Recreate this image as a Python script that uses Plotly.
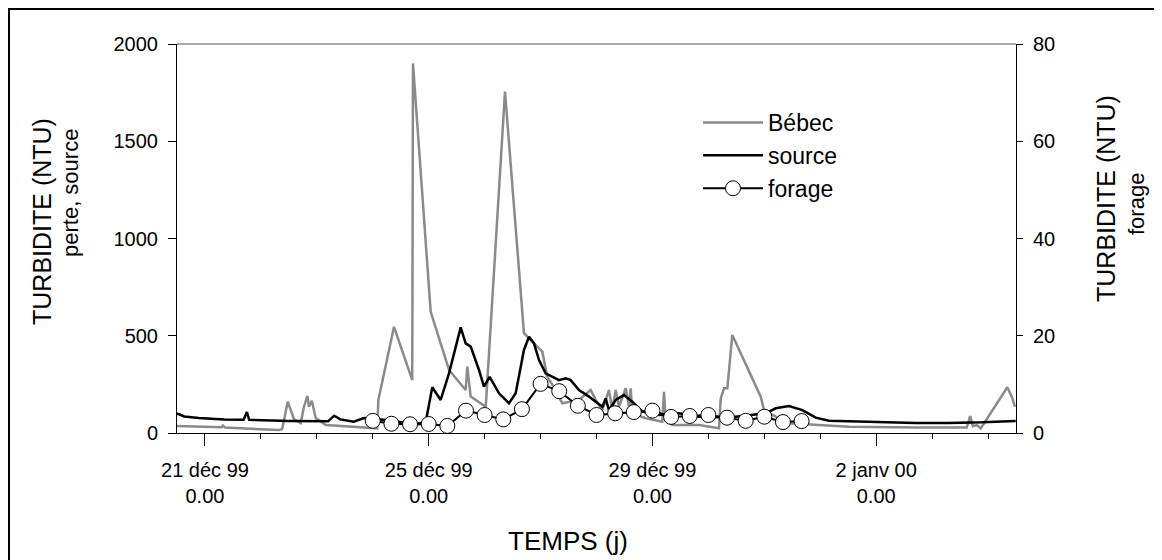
import pandas as pd
import plotly.graph_objects as go

# ---- data (time in days from 21 déc 1999 00:00) ----
bebec_days = [-0.52, 0.30, 0.32, 0.36, 1.32, 1.38, 1.48, 1.59, 1.71, 1.77,
              1.83, 1.86, 1.91, 1.98, 2.16, 2.58, 2.93, 3.08, 3.10, 3.38,
              3.706, 3.719, 4.035, 4.363, 4.661, 4.690, 4.751, 5.02, 5.364, 5.703,
              6.031, 6.120, 6.270, 6.388, 6.687, 6.896, 6.986, 7.104, 7.223, 7.282,
              7.343, 7.402, 7.522, 7.581, 7.611, 7.640, 7.880, 8.176, 8.207, 8.237,
              8.355, 8.833, 9.190, 9.221, 9.280, 9.339, 9.428, 9.936, 9.995, 10.204,
              10.442, 10.919, 11.515, 12.71, 13.62, 13.68, 13.73, 13.80, 13.87, 14.345,
              14.434, 14.48]
bebec_ntu = [36, 30, 38, 28, 15, 20, 161, 72, 51, 135,
             190, 135, 166, 77, 41, 32, 26, 24, 170, 546,
             272, 1900, 624, 324, 221, 341, 187, 135, 1755, 513,
             418, 289, 221, 153, 170, 221, 170, 118, 221, 118,
             221, 135, 230, 135, 230, 101, 76, 58, 212, 67,
             41, 41, 24, 178, 230, 230, 504, 187, 118, 84,
             50, 41, 32, 28, 28, 87, 35, 41, 24, 235,
             180, 135]

source_days = [-0.52, -0.45, -0.37, -0.11, 0.34, 0.69, 0.75, 0.79, 1.50, 2.05,
               2.20, 2.31, 2.42, 2.66, 2.84, 2.93, 3.29, 3.74, 3.946, 4.064,
               4.214, 4.363, 4.572, 4.661, 4.751, 4.899, 4.988, 5.090, 5.257, 5.435,
               5.555, 5.703, 5.793, 5.882, 5.972, 6.091, 6.209, 6.329, 6.449, 6.538,
               6.687, 6.866, 7.104, 7.164, 7.223, 7.343, 7.492, 7.640, 7.819, 8.117,
               8.475, 8.833, 9.369, 10.025, 10.204, 10.442, 10.680, 10.919, 11.157, 11.813,
               12.707, 13.302, 13.898, 14.495]
source_ntu = [100, 95, 85, 77, 70, 68, 108, 68, 62, 58,
              60, 89, 70, 58, 77, 75, 65, 45, 55, 235,
              170, 307, 543, 461, 444, 324, 238, 289, 204, 153,
              204, 427, 495, 461, 375, 307, 289, 272, 281, 272,
              221, 187, 135, 178, 118, 170, 195, 161, 110, 93,
              101, 84, 80, 101, 127, 139, 118, 79, 63, 57,
              52, 52, 55, 62]

forage_time = ["1999-12-24 00:00", "1999-12-24 08:00", "1999-12-24 16:00",
               "1999-12-25 00:00", "1999-12-25 08:00", "1999-12-25 16:00",
               "1999-12-26 00:00", "1999-12-26 08:00", "1999-12-26 16:00",
               "1999-12-27 00:00", "1999-12-27 08:00", "1999-12-27 16:00",
               "1999-12-28 00:00", "1999-12-28 08:00", "1999-12-28 16:00",
               "1999-12-29 00:00", "1999-12-29 08:00", "1999-12-29 16:00",
               "1999-12-30 00:00", "1999-12-30 08:00", "1999-12-30 16:00",
               "1999-12-31 00:00", "1999-12-31 08:00", "1999-12-31 16:00"]
forage_ntu = [2.5, 1.9, 1.8, 1.85, 1.45, 4.6, 3.7, 2.8, 4.9, 10.1,
              8.6, 5.6, 3.7, 4.05, 4.3, 4.6, 3.3, 3.5, 3.7, 3.15,
              2.5, 3.35, 2.25, 2.45]

tick_dates = ["1999-12-21", "1999-12-25", "1999-12-29", "2000-01-02"]
tick_labels = ["21 déc 99<br>0.00", "25 déc 99<br>0.00", "29 déc 99<br>0.00", "2 janv 00<br>0.00"]
x_range = ["1999-12-20 12:00", "2000-01-04 12:00"]

base = pd.Timestamp("1999-12-21")
bebec_x = base + pd.to_timedelta(bebec_days, unit="D")
source_x = base + pd.to_timedelta(source_days, unit="D")

FONT = "Liberation Sans, Arial, sans-serif"
OFF = 8                      # page body margin
W, H = 1162 - OFF, 560 - OFF
L, R, T, B = 177, 1016, 44, 433   # plot area in page pixels


def px(x):
    return (x - L) / (R - L)


def py(y):
    return (B - y) / (B - T)


fig = go.Figure()
fig.add_trace(go.Scatter(x=bebec_x, y=bebec_ntu, mode="lines", name="Bébec",
                         line=dict(color="#8a8a8a", width=2.5), legendgroup="a"))
fig.add_trace(go.Scatter(x=source_x, y=source_ntu, mode="lines", name="source",
                         line=dict(color="black", width=2.5), legendgroup="b"))
fig.add_trace(go.Scatter(x=pd.to_datetime(forage_time), y=forage_ntu, mode="lines+markers",
                         name="forage", yaxis="y2", legendgroup="c",
                         line=dict(color="black", width=2),
                         marker=dict(symbol="circle", size=15, color="white",
                                     line=dict(color="black", width=1))))

fig.update_layout(
    width=W, height=H,
    margin=dict(l=L - OFF, r=W - (R - OFF), t=T - OFF, b=H - (B - OFF), pad=0),
    paper_bgcolor="white", plot_bgcolor="white",
    font=dict(family=FONT, size=20, color="black"),
    showlegend=True,
    legend=dict(x=px(698), y=py(101), xanchor="left", yanchor="top",
                bgcolor="rgba(0,0,0,0)", font=dict(size=23),
                itemwidth=60, tracegroupgap=0),
    xaxis=dict(type="date", range=x_range, showgrid=False, zeroline=False,
               showline=True, linecolor="black", linewidth=1,
               ticks="outside", ticklen=12, tickcolor="black",
               tickvals=tick_dates, ticktext=tick_labels, ticklabelstandoff=7,
               minor=dict(ticks="outside", ticklen=5, dtick=86400000, tickcolor="black",
                          showgrid=False)),
    yaxis=dict(range=[0, 2000], tickvals=[0, 500, 1000, 1500, 2000], showgrid=False,
               zeroline=False, showline=True, linecolor="black", linewidth=1,
               ticks="outside", ticklen=8, tickcolor="black", ticklabelstandoff=6),
    yaxis2=dict(range=[0, 80], tickvals=[0, 20, 40, 60, 80], overlaying="y", side="right",
                showgrid=False, zeroline=False, showline=True, linecolor="black", linewidth=1,
                ticks="outside", ticklen=6, tickcolor="black", ticklabelstandoff=6),
)

# frame and top border
fig.add_shape(type="rect", xref="paper", yref="paper",
              x0=px(9), x1=px(1175), y0=py(575), y1=py(9),
              line=dict(color="black", width=2), layer="below")
fig.add_shape(type="line", xref="paper", yref="paper",
              x0=0, x1=1, y0=1, y1=1, line=dict(color="#555555", width=1))

# axis titles
fig.add_annotation(text="TURBIDITE (NTU)", xref="paper", yref="paper", x=px(42), y=py(222),
                   textangle=-90, showarrow=False, font=dict(size=25),
                   xanchor="center", yanchor="middle")
fig.add_annotation(text="perte, source", xref="paper", yref="paper", x=px(70), y=py(193),
                   textangle=-90, showarrow=False, font=dict(size=22),
                   xanchor="center", yanchor="middle")
fig.add_annotation(text="TURBIDITE (NTU)", xref="paper", yref="paper", x=px(1106), y=py(199),
                   textangle=-90, showarrow=False, font=dict(size=25),
                   xanchor="center", yanchor="middle")
fig.add_annotation(text="forage", xref="paper", yref="paper", x=px(1137), y=py(204),
                   textangle=-90, showarrow=False, font=dict(size=22),
                   xanchor="center", yanchor="middle")
fig.add_annotation(text="TEMPS (j)", xref="paper", yref="paper", x=px(568), y=py(541),
                   showarrow=False, font=dict(size=26),
                   xanchor="center", yanchor="middle")

fig.write_html("out.html")
